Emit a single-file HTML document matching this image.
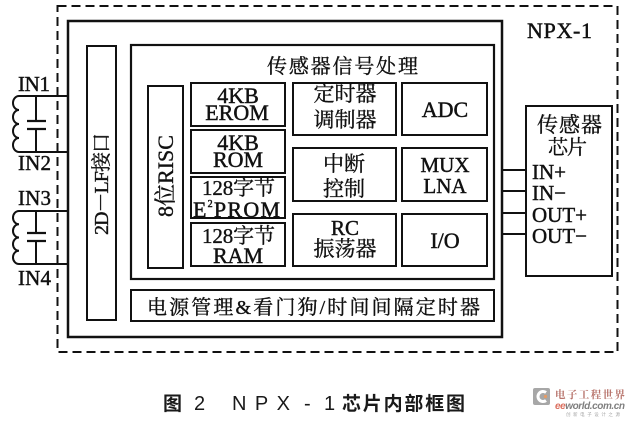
<!DOCTYPE html>
<html><head><meta charset="utf-8"><style>
html,body{margin:0;padding:0;background:#fff;}
svg{display:block;}
.s{font-family:"Liberation Serif","Noto Serif CJK SC",serif;fill:#111;stroke:#111;stroke-width:0.45;}
.c{font-family:"Liberation Serif","Noto Serif CJK SC",serif;fill:#111;stroke:#111;stroke-width:0.35;}
</style></head><body>
<svg width="629" height="423" viewBox="0 0 629 423" xmlns="http://www.w3.org/2000/svg">
<rect x="0" y="0" width="629" height="423" fill="#fff"/>
<g fill="none" stroke="#111">
<rect x="57.5" y="6" width="560" height="346" stroke-width="2" stroke-dasharray="9 5"/>
<rect x="68" y="21" width="434" height="316" stroke-width="2.5"/>
<rect x="87" y="46" width="29" height="274" stroke-width="2"/>
<rect x="131" y="45" width="363" height="234" stroke-width="2.2"/>
<rect x="131" y="290" width="363" height="31" stroke-width="2"/>
<rect x="148" y="86" width="35" height="182" stroke-width="2"/>
<rect x="191" y="83" width="94" height="43" stroke-width="2"/>
<rect x="191" y="130" width="94" height="43" stroke-width="2"/>
<rect x="191" y="177" width="94" height="41" stroke-width="2"/>
<rect x="191" y="223" width="94" height="43" stroke-width="2"/>
<rect x="293" y="83" width="103" height="52" stroke-width="2"/>
<rect x="402" y="83" width="85" height="52" stroke-width="2"/>
<rect x="293" y="148" width="103" height="53" stroke-width="2"/>
<rect x="402" y="148" width="85" height="53" stroke-width="2"/>
<rect x="293" y="214" width="103" height="52" stroke-width="2"/>
<rect x="402" y="214" width="85" height="52" stroke-width="2"/>
<rect x="526" y="106" width="86" height="170" stroke-width="2"/>
<line x1="502" y1="170" x2="526" y2="170" stroke-width="2"/>
<line x1="502" y1="191" x2="526" y2="191" stroke-width="2"/>
<line x1="502" y1="213" x2="526" y2="213" stroke-width="2"/>
<line x1="502" y1="234" x2="526" y2="234" stroke-width="2"/>
<line x1="19" y1="96" x2="68" y2="96" stroke-width="2"/>
<line x1="19" y1="152" x2="68" y2="152" stroke-width="2"/>
<path d="M19 96 A6 7 0 0 0 19 110 A6 7 0 0 0 19 124 A6 7 0 0 0 19 138 A6 7 0 0 0 19 152" stroke-width="2"/>
<line x1="36" y1="96" x2="36" y2="121" stroke-width="2"/>
<line x1="27" y1="121" x2="46" y2="121" stroke-width="2.2"/>
<line x1="27" y1="129" x2="46" y2="129" stroke-width="2.2"/>
<line x1="36" y1="129" x2="36" y2="152" stroke-width="2"/>
<line x1="19" y1="211" x2="68" y2="211" stroke-width="2"/>
<line x1="19" y1="264" x2="68" y2="264" stroke-width="2"/>
<path d="M19 211 A6 6.6 0 0 0 19 224.25 A6 6.6 0 0 0 19 237.5 A6 6.6 0 0 0 19 250.75 A6 6.6 0 0 0 19 264" stroke-width="2"/>
<line x1="36" y1="211" x2="36" y2="233" stroke-width="2"/>
<line x1="27" y1="233" x2="46" y2="233" stroke-width="2.2"/>
<line x1="27" y1="241" x2="46" y2="241" stroke-width="2.2"/>
<line x1="36" y1="241" x2="36" y2="264" stroke-width="2"/>
</g>
<text class="s" x="18" y="91" font-size="21" textLength="32">IN1</text>
<text class="s" x="18" y="170" font-size="21" textLength="33">IN2</text>
<text class="s" x="18" y="205" font-size="21" textLength="33">IN3</text>
<text class="s" x="18" y="285" font-size="21" textLength="33">IN4</text>
<text class="s" x="527" y="38" font-size="22" textLength="65">NPX-1</text>
<text class="c" x="267" y="73" font-size="20" textLength="151">传感器信号处理</text>
<text class="c" transform="translate(108,184) rotate(-90)" x="0" y="0" font-size="20" text-anchor="middle" textLength="102">2D－LF接口</text>
<text class="c" transform="translate(173,176) rotate(-90)" x="0" y="0" font-size="22" text-anchor="middle" textLength="82">8位RISC</text>
<text class="s" x="238" y="103" font-size="22" text-anchor="middle">4KB</text>
<text class="s" x="237" y="120" font-size="22" text-anchor="middle">EROM</text>
<text class="s" x="238" y="150" font-size="22" text-anchor="middle">4KB</text>
<text class="s" x="238" y="167" font-size="22" text-anchor="middle">ROM</text>
<text class="c" x="202" y="195" font-size="21" textLength="73">128字节</text>
<text class="s" x="193" y="217" font-size="22" textLength="87">E<tspan font-size="10" dy="-10">2</tspan><tspan dy="10">PROM</tspan></text>
<text class="c" x="202" y="243" font-size="21" textLength="73">128字节</text>
<text class="s" x="238" y="263" font-size="22" text-anchor="middle">RAM</text>
<text class="c" x="345" y="101" font-size="21" text-anchor="middle">定时器</text>
<text class="c" x="345" y="127" font-size="21" text-anchor="middle">调制器</text>
<text class="s" x="445" y="117" font-size="22" text-anchor="middle">ADC</text>
<text class="c" x="344" y="171" font-size="21" text-anchor="middle">中断</text>
<text class="c" x="344" y="196" font-size="21" text-anchor="middle">控制</text>
<text class="s" x="445" y="172" font-size="21" text-anchor="middle">MUX</text>
<text class="s" x="445" y="193" font-size="21" text-anchor="middle">LNA</text>
<text class="s" x="345" y="235" font-size="21" text-anchor="middle">RC</text>
<text class="c" x="345" y="256" font-size="21" text-anchor="middle">振荡器</text>
<text class="s" x="445" y="248" font-size="22" text-anchor="middle">I/O</text>
<text class="c" x="147" y="314" font-size="20" textLength="333">电源管理&amp;看门狗/时间间隔定时器</text>
<text class="c" x="537" y="132" font-size="21" textLength="65">传感器</text>
<text class="c" x="548" y="154" font-size="20" textLength="39">芯片</text>
<text class="s" x="532" y="179" font-size="21">IN+</text>
<text class="s" x="532" y="200" font-size="21">IN−</text>
<text class="s" x="532" y="222" font-size="21">OUT+</text>
<text class="s" x="532" y="243" font-size="21">OUT−</text>
<g font-family="'Liberation Sans','Noto Sans CJK SC',sans-serif" fill="#1a1a1a">
<text x="163" y="410" font-size="19" font-weight="bold" font-family="'Noto Sans CJK SC',sans-serif">图</text>
<text x="194" y="410" font-size="20">2</text>
<text x="232" y="410" font-size="20" textLength="58">NPX</text>
<text x="304" y="410" font-size="20">-</text>
<text x="324" y="410" font-size="20">1</text>
<text x="342" y="410" font-size="19" font-weight="bold" font-family="'Noto Sans CJK SC',sans-serif" textLength="123">芯片内部框图</text>
</g>
<g opacity="0.75">
<rect x="533" y="388" width="17" height="17" rx="2" fill="#8a8a8a"/>
<path d="M546 392.5 A5 5 0 1 0 546 400.5" fill="none" stroke="#fff" stroke-width="3"/>
<circle cx="545.5" cy="396.5" r="1.6" fill="#e07a30"/>
<text x="555" y="398" font-size="10.5" fill="#a0453a" font-family="'Noto Serif CJK SC',serif" font-weight="bold" textLength="70">电子工程世界</text>
<text x="555" y="409" font-size="10" font-style="italic" font-weight="bold" font-family="'Liberation Sans',sans-serif" textLength="70"><tspan fill="#d0402a">ee</tspan><tspan fill="#555">world.com.cn</tspan></text>
<text x="566" y="416" font-size="4.5" fill="#888" font-family="'Noto Sans CJK SC',sans-serif" textLength="54">创新电子设计之源</text>
</g>
</svg>
</body></html>
